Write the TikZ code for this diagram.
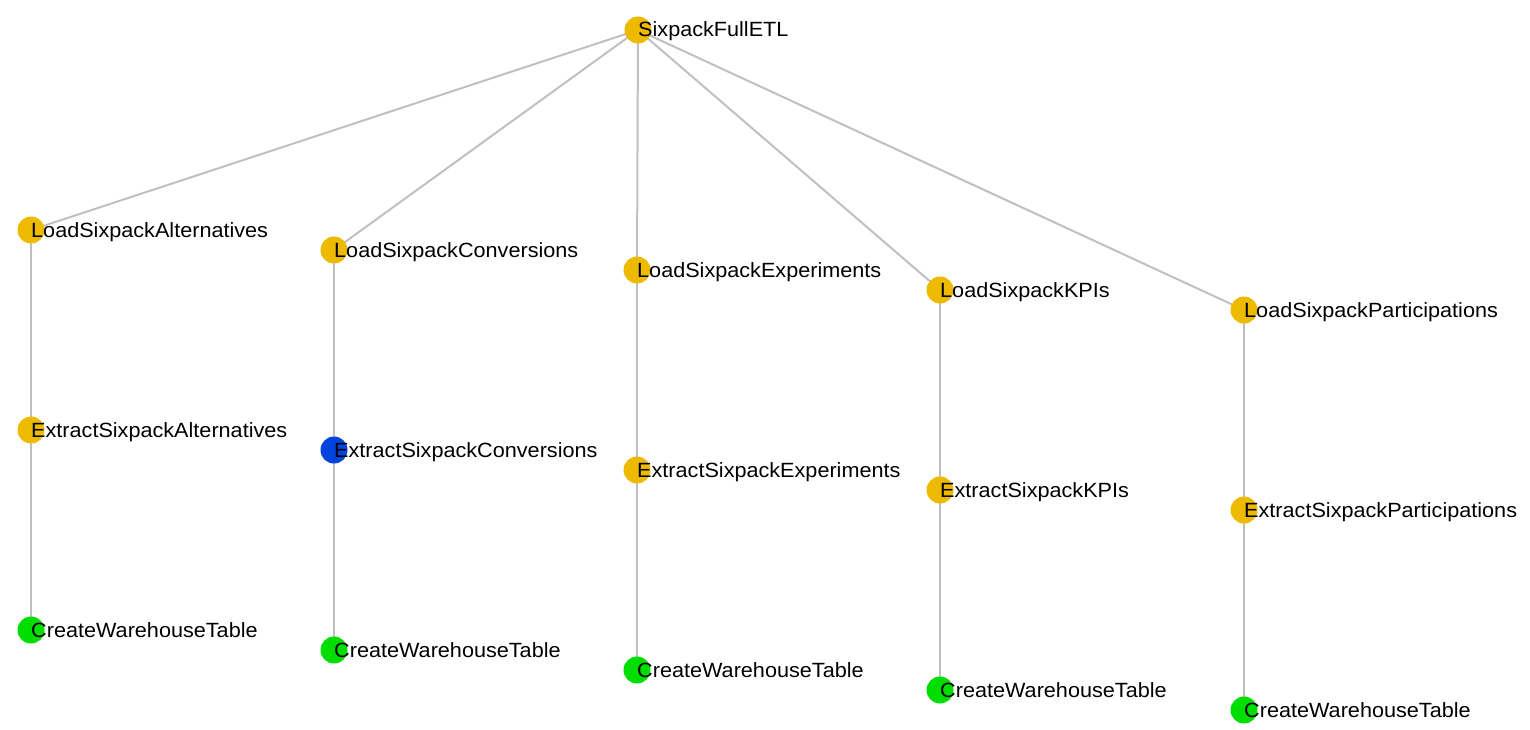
\documentclass[tikz,border=0pt]{standalone}
\usepackage{fontspec}
\setmainfont{Liberation Sans}
\newfontfamily\labfont[FakeStretch=1.05]{Liberation Sans}
\usetikzlibrary{backgrounds}
\definecolor{nodeY}{RGB}{238,186,0}
\definecolor{nodeB}{RGB}{0,68,221}
\definecolor{nodeG}{RGB}{0,221,0}
\definecolor{edgegray}{RGB}{192,192,192}
\begin{document}
\begin{tikzpicture}[x=1pt,y=-1pt,
  dot/.style={circle,minimum size=27pt,inner sep=0pt,draw=none},
  ydot/.style={dot,fill=nodeY},
  bdot/.style={dot,fill=nodeB},
  gdot/.style={dot,fill=nodeG},
  lab/.style={anchor=base west,inner sep=0pt,text=black,font=\labfont\fontsize{20.6}{24}\selectfont},
  edge/.style={draw=edgegray,line width=2pt}]
\useasboundingbox (0,0) rectangle (1530,730);
% circles
\node[ydot] (top) at (638,30) {};
\node[ydot] (l1) at (31,230) {};
\node[ydot] (l2) at (334,250) {};
\node[ydot] (l3) at (637,270) {};
\node[ydot] (l4) at (940,290) {};
\node[ydot] (l5) at (1244,310) {};
\node[ydot] (e1) at (31,430) {};
\node[bdot] (e2) at (334,450) {};
\node[ydot] (e3) at (637,470) {};
\node[ydot] (e4) at (940,490) {};
\node[ydot] (e5) at (1244,510) {};
\node[gdot] (c1) at (31,630) {};
\node[gdot] (c2) at (334,650) {};
\node[gdot] (c3) at (637,670) {};
\node[gdot] (c4) at (940,690) {};
\node[gdot] (c5) at (1244,710) {};
% edges
\begin{scope}[on background layer]
\foreach \a/\b in {top/l1,top/l2,top/l3,top/l4,top/l5,l1/e1,l2/e2,l3/e3,l4/e4,l5/e5,e1/c1,e2/c2,e3/c3,e4/c4,e5/c5}
  \draw[edge] (\a.center) -- (\b.center);
\end{scope}
% labels
\node[lab] (ttop) at ([yshift=-7pt]top.center) {SixpackFullETL};
\node[lab] (tl1) at ([yshift=-7pt]l1.center) {LoadSixpackAlternatives};
\node[lab] (tl2) at ([yshift=-7pt]l2.center) {LoadSixpackConversions};
\node[lab] (tl3) at ([yshift=-7pt]l3.center) {LoadSixpackExperiments};
\node[lab] (tl4) at ([yshift=-7pt]l4.center) {LoadSixpackKPIs};
\node[lab] (tl5) at ([yshift=-7pt]l5.center) {LoadSixpackParticipations};
\node[lab] (te1) at ([yshift=-7pt]e1.center) {ExtractSixpackAlternatives};
\node[lab] (te2) at ([yshift=-7pt]e2.center) {ExtractSixpackConversions};
\node[lab] (te3) at ([yshift=-7pt]e3.center) {ExtractSixpackExperiments};
\node[lab] (te4) at ([yshift=-7pt]e4.center) {ExtractSixpackKPIs};
\node[lab] (te5) at ([yshift=-7pt]e5.center) {ExtractSixpackParticipations};
\node[lab] (tc1) at ([yshift=-7pt]c1.center) {CreateWarehouseTable};
\node[lab] (tc2) at ([yshift=-7pt]c2.center) {CreateWarehouseTable};
\node[lab] (tc3) at ([yshift=-7pt]c3.center) {CreateWarehouseTable};
\node[lab] (tc4) at ([yshift=-7pt]c4.center) {CreateWarehouseTable};
\node[lab] (tc5) at ([yshift=-7pt]c5.center) {CreateWarehouseTable};
\end{tikzpicture}
\end{document}
